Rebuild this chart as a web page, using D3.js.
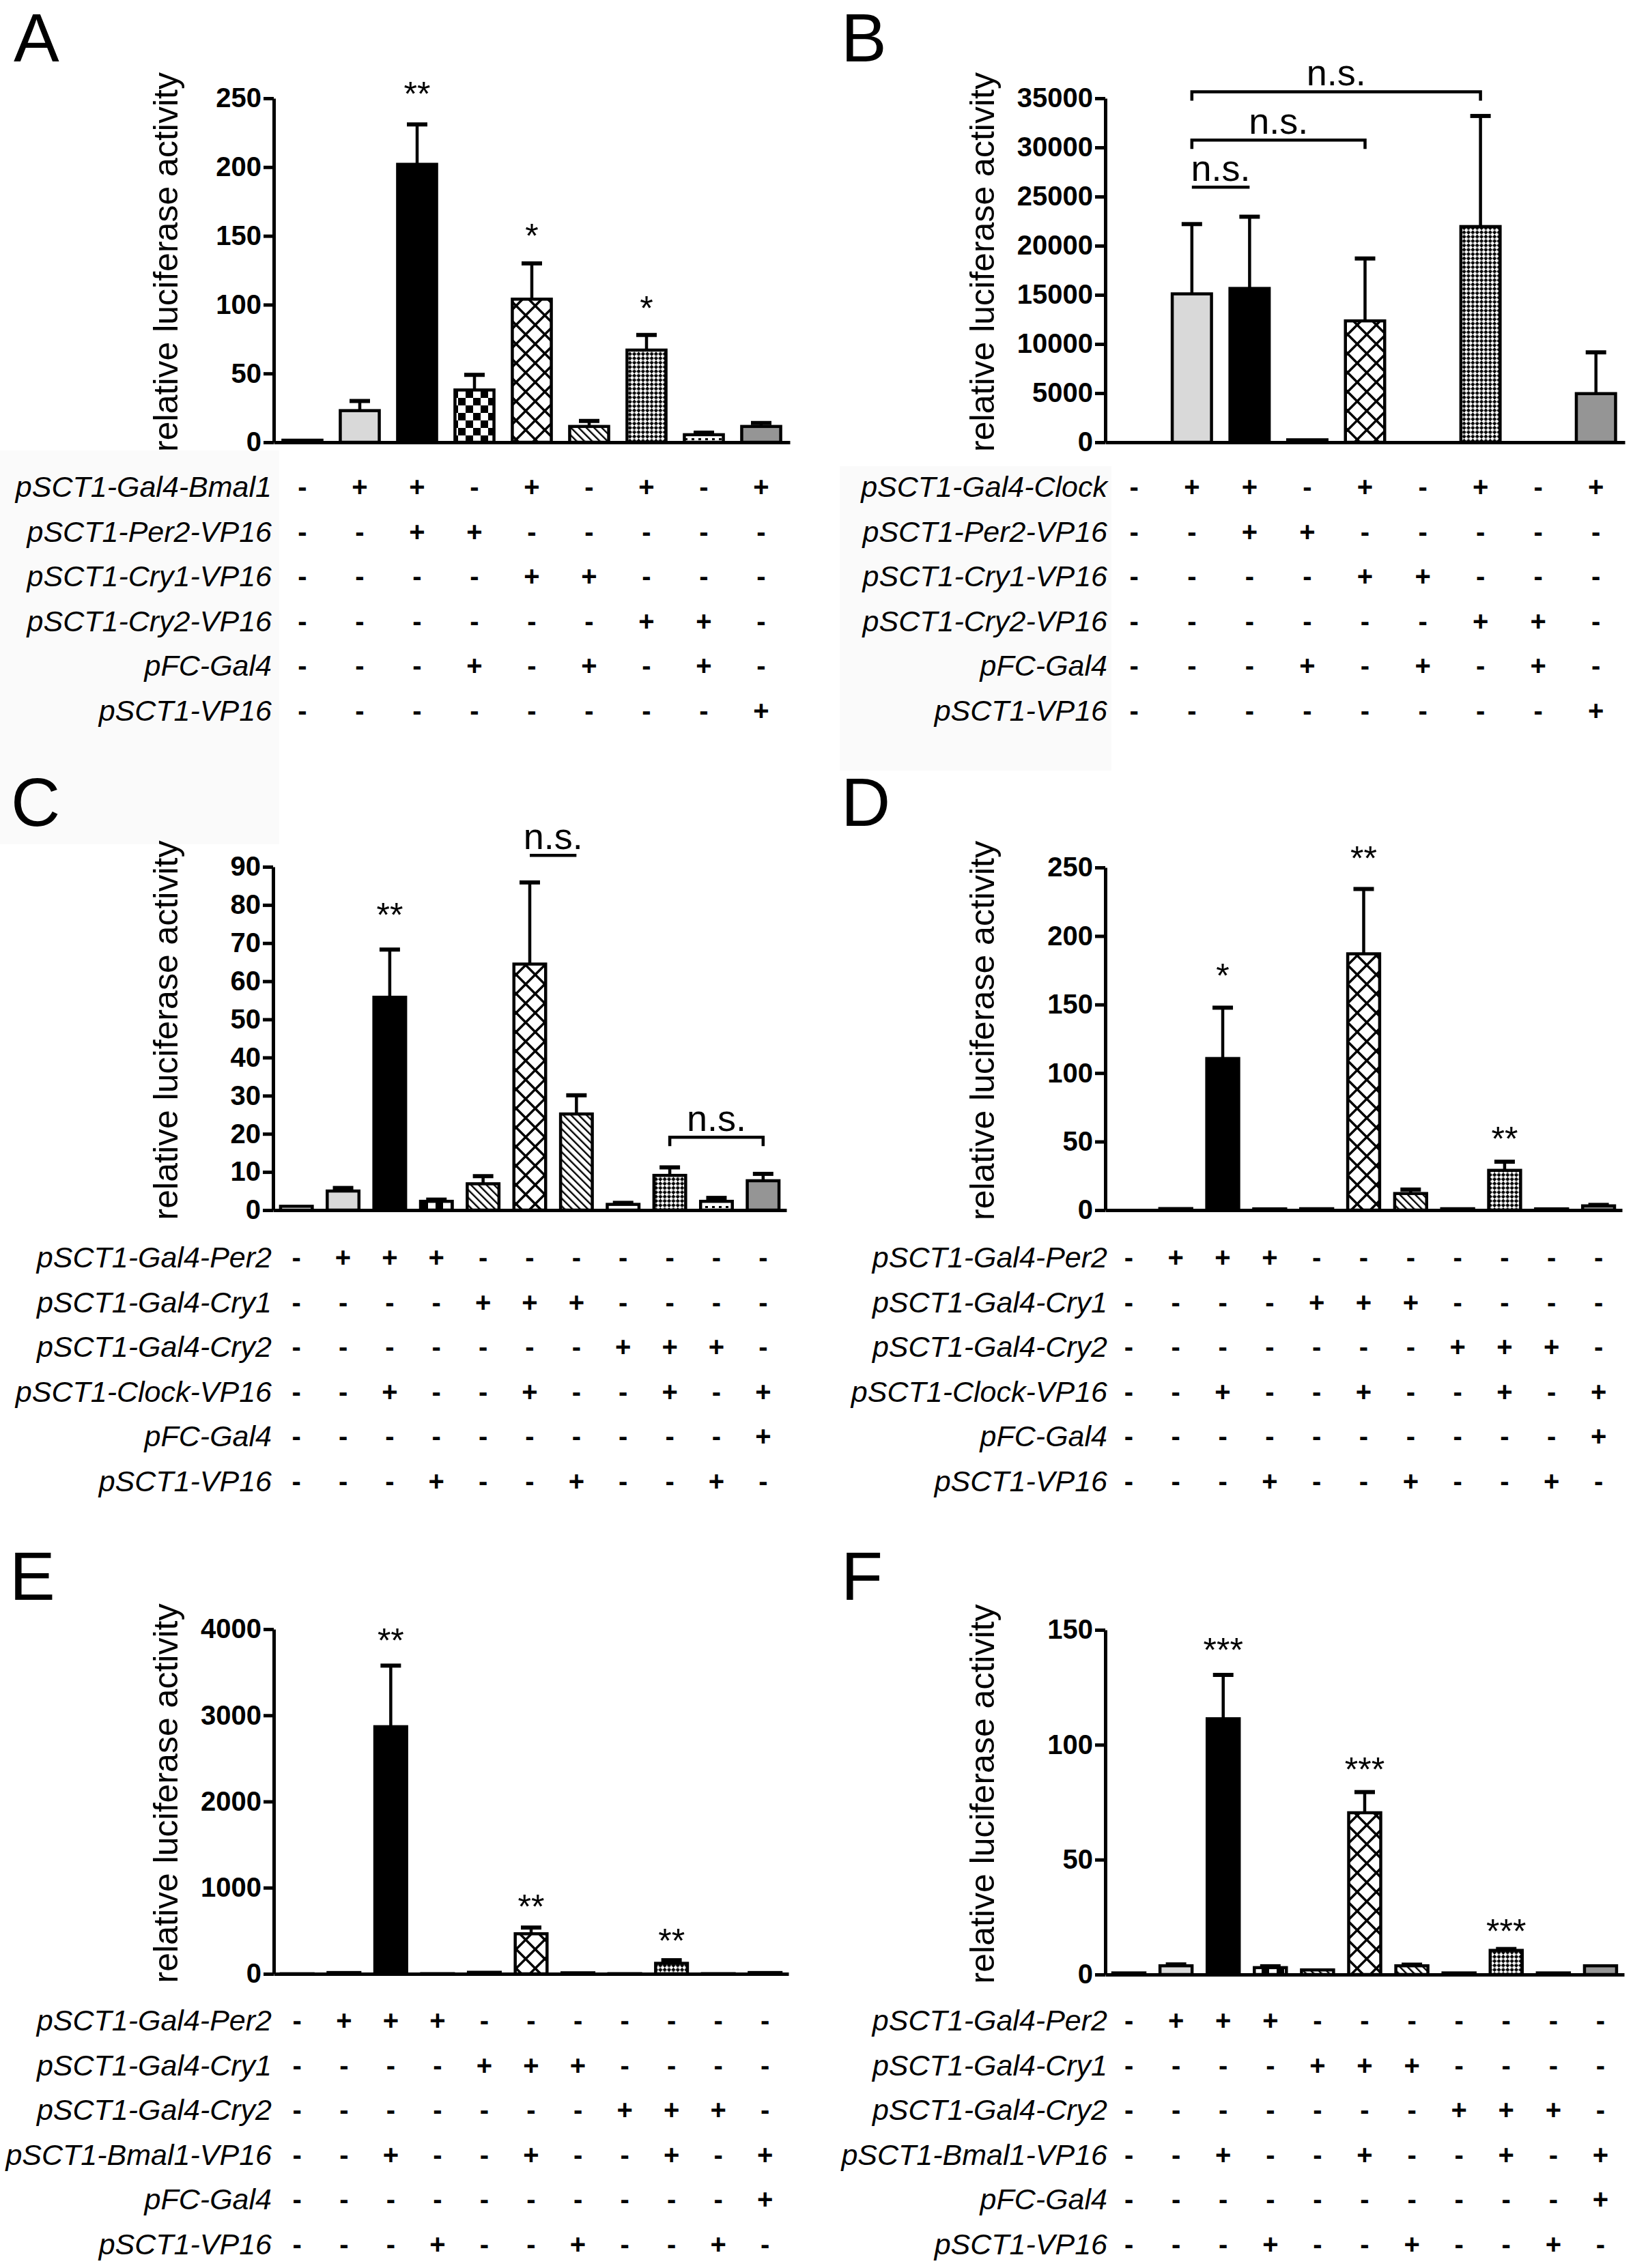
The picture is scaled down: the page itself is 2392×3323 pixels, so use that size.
<!DOCTYPE html>
<html><head><meta charset="utf-8">
<script src="https://cdn.jsdelivr.net/npm/d3@7"></script>
<style>
html,body{margin:0;padding:0;background:#fff;}
svg{display:block;}
text{font-family:"Liberation Sans", Arial, Helvetica, sans-serif;fill:#000;}
</style></head><body>
<svg id="fig" width="2392" height="3323"></svg>
<script>
// ---------------- DATA ----------------
const yLabel = "relative luciferase activity";
const panelLetters = ["A","B","C","D","E","F"];

// Panel A
const aValues = [1.5, 23, 202, 38, 104, 11.5, 67, 5.5, 11.5];
const aSem    = [0, 7, 29, 11, 26, 4, 11, 1.5, 2.5];
const aFills  = ["white","lightgray","black","checker","cross","stripes","finecheck","dots","darkgray"];
const aTicks  = [0, 50, 100, 150, 200, 250];
const aRows   = ["pSCT1-Gal4-Bmal1","pSCT1-Per2-VP16","pSCT1-Cry1-VP16","pSCT1-Cry2-VP16","pFC-Gal4","pSCT1-VP16"];
const aSigns  = ["-++-+-+-+","--++-----","----++---","------++-","---+-+-+-","--------+"];
const aStars  = [{bar:2,text:"**",value:259},{bar:4,text:"*",value:156},{bar:6,text:"*",value:103}];

// Panel B
const bValues = [0, 15100, 15650, 250, 12350, 0, 21950, 0, 4950];
const bSem    = [0, 7100, 7300, 0, 6350, 0, 11250, 0, 4200];
const bFills  = ["white","lightgray","black","checker","cross","stripes","finecheck","dots","darkgray"];
const bTicks  = [0, 5000, 10000, 15000, 20000, 25000, 30000, 35000];
const bRows   = ["pSCT1-Gal4-Clock","pSCT1-Per2-VP16","pSCT1-Cry1-VP16","pSCT1-Cry2-VP16","pFC-Gal4","pSCT1-VP16"];
const bSigns  = ["-++-+-+-+","--++-----","----++---","------++-","---+-+-+-","--------+"];
const bBrackets = [{from:1,to:6,value:35667,drop:true,text:"n.s."},
                   {from:1,to:4,value:30740,drop:true,text:"n.s."},
                   {from:1,to:2,value:25952,drop:false,text:"n.s."}];

// Panel C
const cValues = [1.0, 5.0, 55.8, 2.3, 6.9, 64.5, 25.2, 1.5, 9.1, 2.3, 7.7];
const cSem    = [0, 0.8, 12.5, 0.45, 2.0, 21.4, 4.9, 0.4, 2.1, 0.9, 1.8];
const cdefFills = ["white","lightgray","black","checker","stripes","cross","stripes","white","finecheck","dots","darkgray"];
const cTicks  = [0, 10, 20, 30, 40, 50, 60, 70, 80, 90];
const cRows   = ["pSCT1-Gal4-Per2","pSCT1-Gal4-Cry1","pSCT1-Gal4-Cry2","pSCT1-Clock-VP16","pFC-Gal4","pSCT1-VP16"];
const cSigns  = ["-+++-------","----+++----","-------+++-","--+--+--+-+","----------+","---+--+--+-"];
const cStars  = [{bar:2,text:"**",value:79.5}];
const cBrackets = [{from:5,to:6,value:93,drop:false,text:"n.s."},
                   {from:8,to:10,value:19.1,drop:true,text:"n.s."}];

// Panel D
const dValues = [0, 1.1, 110.6, 0.9, 1.0, 187, 12.1, 1.0, 29, 0.9, 3.1];
const dSem    = [0, 0, 37.1, 0, 0, 47.3, 2.9, 0, 6.3, 0, 0.7];
const dTicks  = [0, 50, 100, 150, 200, 250];
const dRows   = ["pSCT1-Gal4-Per2","pSCT1-Gal4-Cry1","pSCT1-Gal4-Cry2","pSCT1-Clock-VP16","pFC-Gal4","pSCT1-VP16"];
const dSigns  = ["-+++-------","----+++----","-------+++-","--+--+--+-+","----------+","---+--+--+-"];
const dStars  = [{bar:2,text:"*",value:176.9},{bar:5,text:"**",value:262.4},{bar:8,text:"**",value:57.9}];

// Panel E
const eValues = [1, 15, 2868, 2, 18, 465, 12, 2, 122, 2, 15];
const eSem    = [0, 0, 709, 0, 0, 72, 0, 0, 36, 0, 0];
const eTicks  = [0, 1000, 2000, 3000, 4000];
const eRows   = ["pSCT1-Gal4-Per2","pSCT1-Gal4-Cry1","pSCT1-Gal4-Cry2","pSCT1-Bmal1-VP16","pFC-Gal4","pSCT1-VP16"];
const eSigns  = ["-+++-------","----+++----","-------+++-","--+--+--+-+","----------+","---+--+--+-"];
const eStars  = [{bar:2,text:"**",value:3960},{bar:5,text:"**",value:871},{bar:8,text:"**",value:475}];

// Panel F
const fValues = [0.7, 3.8, 111.3, 3.0, 2.0, 70.4, 3.8, 0.7, 10.5, 0.7, 3.8];
const fSem    = [0, 0.6, 19.1, 0.6, 0, 9.0, 0.5, 0, 0.6, 0, 0];
const fTicks  = [0, 50, 100, 150];
const fRows   = ["pSCT1-Gal4-Per2","pSCT1-Gal4-Cry1","pSCT1-Gal4-Cry2","pSCT1-Bmal1-VP16","pFC-Gal4","pSCT1-VP16"];
const fSigns  = ["-+++-------","----+++----","-------+++-","--+--+--+-+","----------+","---+--+--+-"];
const fStars  = [{bar:2,text:"***",value:144.6},{bar:5,text:"***",value:92.7},{bar:8,text:"***",value:22.3}];

// ---------------- LAYOUT ----------------
const svg = d3.select("#fig");
const defs = svg.append("defs");

// faint scan-background boxes
svg.append("rect").attr("x",0).attr("y",660).attr("width",409).attr("height",577).attr("fill","#fafafa");
svg.append("rect").attr("x",1230).attr("y",683).attr("width",398).attr("height",446).attr("fill","#fafafa");

// patterns
function pat(id,w,h,transform){
  const p = defs.append("pattern").attr("id",id).attr("patternUnits","userSpaceOnUse")
    .attr("width",w).attr("height",h);
  if(transform) p.attr("patternTransform",transform);
  p.append("rect").attr("width",w).attr("height",h).attr("fill","#fff");
  return p;
}
let p = pat("checker",22,22);
p.append("rect").attr("x",0).attr("y",0).attr("width",11).attr("height",11).attr("fill","#000");
p.append("rect").attr("x",11).attr("y",11).attr("width",11).attr("height",11).attr("fill","#000");
p = pat("cross",28,28);
p.append("path").attr("d","M-4,-4L32,32M32,-4L-4,32").attr("stroke","#000").attr("stroke-width",3.5);
p = pat("finecheck",9,9,"rotate(45)");
p.append("rect").attr("x",0).attr("y",0).attr("width",4.5).attr("height",4.5).attr("fill","#000");
p.append("rect").attr("x",4.5).attr("y",4.5).attr("width",4.5).attr("height",4.5).attr("fill","#000");
p = pat("stripes",8,8,"rotate(-45)");
p.append("rect").attr("x",3).attr("y",0).attr("width",2.4).attr("height",8).attr("fill","#000");
p = pat("dots",10,9);
p.append("rect").attr("x",3).attr("y",3).attr("width",4).attr("height",3).attr("fill","#000");

const fillMap = {white:"#fff", lightgray:"#d9d9d9", black:"#000", darkgray:"#959595",
  checker:"url(#checker)", cross:"url(#cross)", finecheck:"url(#finecheck)", stripes:"url(#stripes)", dots:"url(#dots)"};

const FONT = '"Liberation Sans", Arial, Helvetica, sans-serif';

const panels = [
  {letter:panelLetters[0], lx:20,   ly:90,   x0:401,  x1:1157, y0:648,  y1:144,  max:250,   ticks:aTicks, values:aValues, sem:aSem, fills:aFills, rows:aRows, signs:aSigns, stars:aStars, brackets:[], ylx:260,  rowTop:713,  labX:398},
  {letter:panelLetters[1], lx:1232, ly:90,   x0:1619, x1:2380, y0:648,  y1:144,  max:35000, ticks:bTicks, values:bValues, sem:bSem, fills:bFills, rows:bRows, signs:bSigns, stars:[], brackets:bBrackets, ylx:1456, rowTop:713,  labX:1622},
  {letter:panelLetters[2], lx:16,   ly:1210, x0:400,  x1:1152, y0:1773, y1:1270, max:90,    ticks:cTicks, values:cValues, sem:cSem, fills:cdefFills, rows:cRows, signs:cSigns, stars:cStars, brackets:cBrackets, ylx:260, rowTop:1842, labX:398},
  {letter:panelLetters[3], lx:1232, ly:1210, x0:1619, x1:2376, y0:1773, y1:1271, max:250,   ticks:dTicks, values:dValues, sem:dSem, fills:cdefFills, rows:dRows, signs:dSigns, stars:dStars, brackets:[], ylx:1456, rowTop:1842, labX:1622},
  {letter:panelLetters[4], lx:14,   ly:2344, x0:401,  x1:1155, y0:2892, y1:2387, max:4000,  ticks:eTicks, values:eValues, sem:eSem, fills:cdefFills, rows:eRows, signs:eSigns, stars:eStars, brackets:[], ylx:260,  rowTop:2960, labX:398},
  {letter:panelLetters[5], lx:1232, ly:2344, x0:1619, x1:2379, y0:2893, y1:2388, max:150,   ticks:fTicks, values:fValues, sem:fSem, fills:cdefFills, rows:fRows, signs:fSigns, stars:fStars, brackets:[], ylx:1456, rowTop:2960, labX:1622}
];

function drawPanel(cfg){
  const g = svg.append("g");
  const n = cfg.values.length;
  const x = d3.scaleBand().domain(d3.range(n)).range([cfg.x0, cfg.x1]).paddingInner(0.32).paddingOuter(0.16);
  const y = d3.scaleLinear().domain([0, cfg.max]).range([cfg.y0, cfg.y1]);
  const cx = i => x(i) + x.bandwidth()/2;

  // letter
  g.append("text").attr("x",cfg.lx).attr("y",cfg.ly).attr("font-size",100).text(cfg.letter);

  // y label
  const yc = (cfg.y0 + cfg.y1)/2 - 12;
  g.append("text").attr("transform",`translate(${cfg.ylx},${yc}) rotate(-90)`)
    .attr("text-anchor","middle").attr("font-size",50).attr("fill","#111").text(yLabel);

  const data = cfg.values.map((v,i)=>({v, i, sem:cfg.sem[i], fill:cfg.fills[i]}));

  // error bars
  const eb = data.filter(d=>d.v>0 && d.sem>0);
  g.selectAll("line.stem").data(eb).join("line").attr("class","stem")
    .attr("x1",d=>cx(d.i)).attr("x2",d=>cx(d.i))
    .attr("y1",d=>y(d.v)).attr("y2",d=>y(d.v+d.sem))
    .attr("stroke","#000").attr("stroke-width",4.5);
  g.selectAll("line.cap").data(eb).join("line").attr("class","cap")
    .attr("x1",d=>cx(d.i)-15).attr("x2",d=>cx(d.i)+15)
    .attr("y1",d=>y(d.v+d.sem)).attr("y2",d=>y(d.v+d.sem))
    .attr("stroke","#000").attr("stroke-width",6);

  // bars
  g.selectAll("rect.bar").data(data.filter(d=>d.v>0)).join("rect").attr("class","bar")
    .attr("x",d=>x(d.i)).attr("width",x.bandwidth())
    .attr("y",d=>y(d.v)).attr("height",d=>cfg.y0 - y(d.v))
    .attr("fill",d=>fillMap[d.fill]).attr("stroke","#000").attr("stroke-width",4.5);

  // axes
  const ya = g.append("g").attr("transform",`translate(${cfg.x0},0)`)
    .call(d3.axisLeft(y).tickValues(cfg.ticks).tickSize(15).tickSizeOuter(0).tickPadding(3).tickFormat(d=>String(d)));
  ya.select(".domain").attr("stroke","#000").attr("stroke-width",5);
  ya.selectAll(".tick line").attr("stroke","#000").attr("stroke-width",5);
  ya.selectAll(".tick text").attr("font-family",FONT).attr("font-weight","bold").attr("font-size",40).attr("fill","#000");

  const xa = g.append("g").attr("transform",`translate(0,${cfg.y0})`)
    .call(d3.axisBottom(x).tickValues([]).tickSizeOuter(0));
  xa.select(".domain").attr("stroke","#000").attr("stroke-width",5);

  // stars
  g.selectAll("text.star").data(cfg.stars).join("text").attr("class","star")
    .attr("x",d=>cx(d.bar)).attr("y",d=>y(d.value)+29)
    .attr("text-anchor","middle").attr("font-size",50).text(d=>d.text);

  // brackets
  cfg.brackets.forEach(b=>{
    const xa1 = cx(b.from), xa2 = cx(b.to), yy = y(b.value);
    const dpath = b.drop ? `M${xa1},${yy+13}V${yy}H${xa2}V${yy+13}` : `M${xa1},${yy}H${xa2}`;
    g.append("path").attr("d",dpath).attr("fill","none").attr("stroke","#000").attr("stroke-width",4.5);
    g.append("text").attr("x",(xa1+xa2)/2).attr("y",yy-9).attr("text-anchor","middle")
      .attr("font-size",54).text(b.text);
  });

  // table
  const rowY = k => cfg.rowTop + k*65.5;
  cfg.rows.forEach((r,k)=>{
    g.append("text").attr("x",cfg.labX).attr("y",rowY(k)+15).attr("text-anchor","end")
      .attr("font-style","italic").attr("font-size",43).text(r);
    g.selectAll(null).data(cfg.signs[k].split("")).join("text")
      .attr("x",(s,i)=>cx(i)).attr("y",rowY(k)+14).attr("text-anchor","middle")
      .attr("font-weight","bold").attr("font-size",40).text(s=>s);
  });
}
panels.forEach(drawPanel);
</script>
</body></html>
